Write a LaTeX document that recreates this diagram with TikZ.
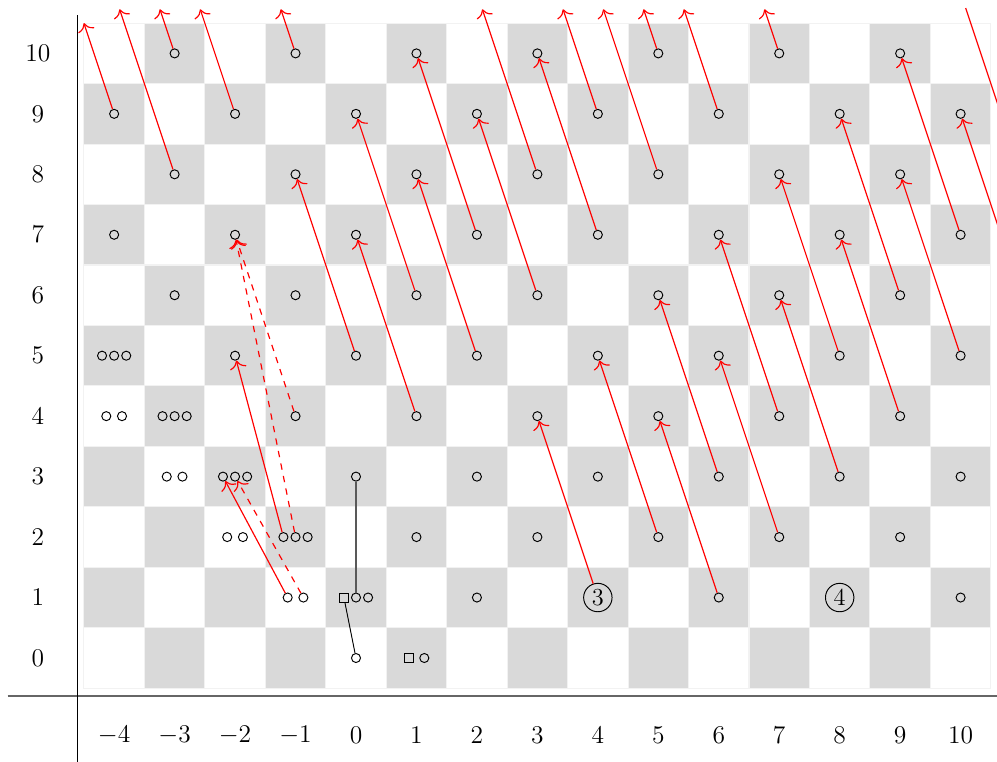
\documentclass[tikz,border=0pt]{standalone}
\usetikzlibrary{calc,arrows.meta}
\begin{document}
\begin{tikzpicture}[x=1cm,y=1cm,
  lbl/.style={font=\fontsize{11.5}{14}\selectfont, inner sep=0pt},
  dot/.style={circle, draw, inner sep=0pt, minimum size=0.15cm, line width=0.45pt},
  sq/.style={rectangle, draw, inner sep=0pt, minimum size=0.15cm, line width=0.45pt},
  big/.style={circle, draw, inner sep=0pt, minimum size=0.47cm, line width=0.45pt, font=\fontsize{11.5}{14}\selectfont},
  dif/.style={red, line width=0.55pt, -{To[scale=1.35]}},
  cellbox/.style={draw=black!5, line width=0.5pt}]
\useasboundingbox (-5.888,-1.704) rectangle (10.602,10.883);
% checkerboard
\foreach \x in {-4,...,10}{\foreach \y in {0,...,10}{%
  \pgfmathtruncatemacro{\cellpar}{mod(\x+\y+20,2)}%
  \ifnum\cellpar=1 \def\cellfill{black!15}\else\def\cellfill{white}\fi
  \path[cellbox, fill=\cellfill] (\x-0.5,\y-0.5) rectangle (\x+0.5,\y+0.5);
}}
% axes
\coordinate (hl) at (-5.76,-0.63);
\coordinate (hr) at (10.7,-0.63);
\coordinate (vb) at (-4.61,-1.8);
\coordinate (vt) at (-4.61,10.63);
\draw[black!60, line width=0.9pt] (hl) -- (hr);
\draw[line width=0.5pt] (vb) -- (vt);
\foreach \x in {-4,...,10} \node[lbl] (xl\x) at (\x,-1.28) {$\x$};
\foreach \y in {0,...,10} \node[lbl] (yl\y) at (-5.26,\y) {$\y$};
% single classes
\foreach \x/\y in {0/0,2/1,6/1,10/1,
  1/2,3/2,5/2,7/2,9/2,
  0/3,2/3,4/3,6/3,8/3,10/3,
  -1/4,1/4,3/4,5/4,7/4,9/4,
  -2/5,0/5,2/5,4/5,6/5,8/5,10/5,
  -3/6,-1/6,1/6,3/6,5/6,7/6,9/6,
  -4/7,-2/7,0/7,2/7,4/7,6/7,8/7,10/7,
  -3/8,-1/8,1/8,3/8,5/8,7/8,9/8,
  -4/9,-2/9,0/9,2/9,4/9,6/9,8/9,10/9,
  -3/10,-1/10,1/10,3/10,5/10,7/10,9/10}
  \node[dot] (n\x y\y) at (\x,\y) {};
% pairs
\foreach \x/\y in {-1/1,-2/2,-3/3,-4/4}{
  \node[dot] (a\x y\y) at (\x-0.13,\y) {};
  \node[dot] (b\x y\y) at (\x+0.13,\y) {};
}
% triples
\foreach \x/\y in {-1/2,-2/3,-3/4,-4/5}{
  \node[dot] (a\x y\y) at (\x-0.2,\y) {};
  \node[dot] (b\x y\y) at (\x,\y) {};
  \node[dot] (c\x y\y) at (\x+0.2,\y) {};
}
\node[sq] (a1y0) at (0.87,0) {};
\node[dot] (b1y0) at (1.13,0) {};
\node[sq] (a0y1) at (-0.2,1) {};
\node[dot] (b0y1) at (0,1) {};
\node[dot] (c0y1) at (0.2,1) {};
\node[big] (n4y1) at (4,1) {3};
\node[big] (n8y1) at (8,1) {4};
% black lines
\draw[black!65, line width=0.6pt] (n0y3) -- (b0y1);
\draw[line width=0.45pt] (a0y1) -- (n0y0);
% differentials
\draw[dif] (a-1y1) -- (a-2y3);
\draw[dif, dashed] (b-1y1) -- (b-2y3);
\draw[dif] (a-1y2) -- (n-2y5);
\draw[dif, dashed] (b-1y2) -- (n-2y7);
\draw[dif, dashed] (n-1y4) -- (n-2y7);
\foreach \x/\y in {0/5,1/4,1/6,2/5,2/7,3/6,4/1,4/7,5/2,6/1,6/3,7/2,7/4,8/3,8/5,9/4,9/6,10/5,10/7}{
  \pgfmathtruncatemacro{\tx}{\x-1}%
  \pgfmathtruncatemacro{\ty}{\y+3}%
  \draw[dif] (n\x y\y) -- (n\tx y\ty);
}
\foreach \x/\y in {-3/8,-3/10,-2/9,-1/10,3/8,4/9,5/8,5/10,6/9,7/10}{
  \coordinate (t\x y\y) at ({\x-(10.73-\y)/3},10.73);
  \draw[dif] (n\x y\y) -- (t\x y\y);
}
\coordinate (tl) at (-4.5,10.5);
\draw[dif] (n-4y9) -- (tl);
\coordinate (o11y6) at (11,6);
\draw[dif] (o11y6) -- (n10y9);
\coordinate (o11y8) at (11,8);
\coordinate (e11y8) at ({11-(10.75-8)/3},10.75);
\draw[red, line width=0.55pt] (o11y8) -- (e11y8);
\end{tikzpicture}
\end{document}
